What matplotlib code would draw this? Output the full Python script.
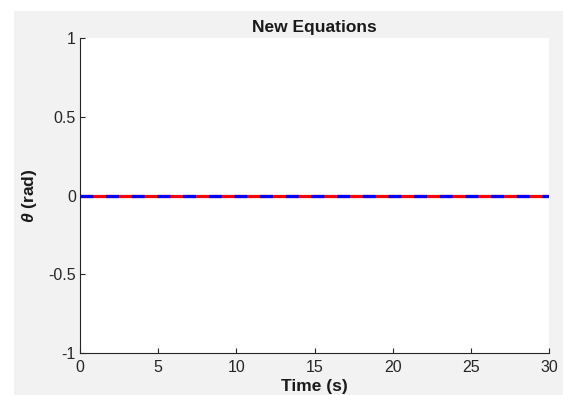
import matplotlib
matplotlib.use("Agg")
import matplotlib.pyplot as plt
from matplotlib.patches import Rectangle

# data
time = [0, 5, 10, 15, 20, 25, 30]
theta_old = [0, 0, 0, 0, 0, 0, 0]
theta_new = [0, 0, 0, 0, 0, 0, 0]
x_ticks = [0, 5, 10, 15, 20, 25, 30]
y_ticks = [-1, -0.5, 0, 0.5, 1]
y_tick_labels = ["-1", "-0.5", "0", "0.5", "1"]

plt.rcParams["font.family"] = ["Liberation Sans", "DejaVu Sans"]
plt.rcParams["axes.unicode_minus"] = False
plt.rcParams["mathtext.fontset"] = "custom"
plt.rcParams["mathtext.bfit"] = "Liberation Sans:italic:bold"
plt.rcParams["mathtext.bf"] = "Liberation Sans:bold"

W, H = 563, 395
fig = plt.figure(figsize=(W / 100, H / 100), dpi=100)
fig.patch.set_facecolor("#f2f2f2")

# white strips along top and left (screenshot border)
fig.add_artist(Rectangle((0, 1 - 11 / H), 1, 11 / H, transform=fig.transFigure,
                         facecolor="white", edgecolor="none", zorder=-10))
fig.add_artist(Rectangle((0, 0), 14 / W, 1, transform=fig.transFigure,
                         facecolor="white", edgecolor="none", zorder=-10))

ax = fig.add_axes([80 / W, 1 - 353 / H, (549 - 80) / W, (353 - 38) / H])
ax.set_facecolor("white")

lw = 2.3
dash = 9.24 / lw  # ~12.8 px dashes, in units of linewidth
ax.plot(time, theta_old, color="#ff0000", lw=lw, solid_capstyle="butt", zorder=2)
ax.plot(time, theta_new, color="#0000ff", lw=lw, linestyle=(0, (dash, dash)),
        dash_capstyle="butt", zorder=3)

ax.set_xlim(0, 30)
ax.set_ylim(-1, 1)
ax.set_xticks(x_ticks)
ax.set_yticks(y_ticks, y_tick_labels)

dark = "#262626"
for side in ("top", "right"):
    ax.spines[side].set_visible(False)
for side in ("left", "bottom"):
    ax.spines[side].set_color(dark)
    ax.spines[side].set_linewidth(0.8)
ax.tick_params(direction="in", length=3.5, width=0.8, color=dark,
               labelcolor=dark, labelsize=11.5)
ax.tick_params(axis="x", pad=5)
ax.tick_params(axis="y", pad=3)

ax.set_title("New Equations", fontsize=12.5, fontweight="bold", color="#1a1a1a", pad=4)
ax.set_xlabel("Time (s)", fontsize=12.5, fontweight="bold", color="#1a1a1a", labelpad=3)
ax.set_ylabel(r"$\boldsymbol{\theta}$ (rad)", fontsize=12.5, fontweight="bold",
              color="#1a1a1a")
ax.yaxis.set_label_coords(-0.087, 0.5)

fig.savefig("out.png", dpi=100)
